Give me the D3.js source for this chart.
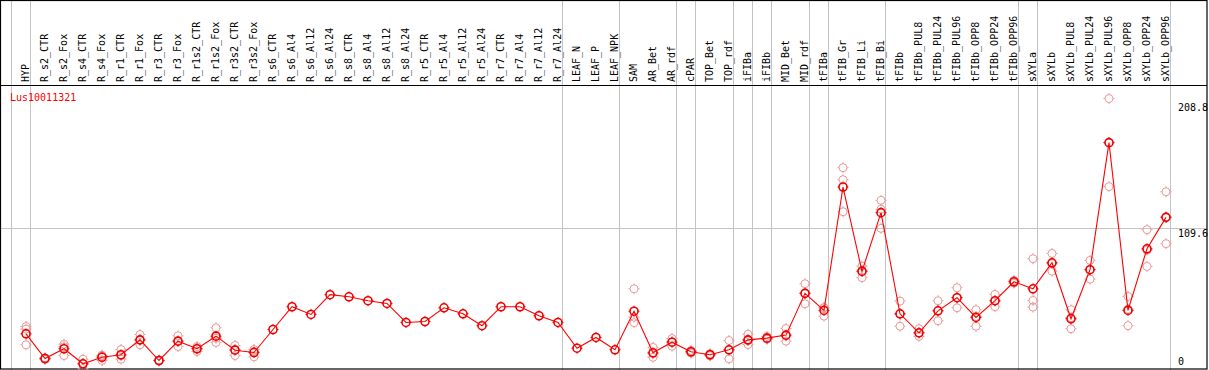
<!DOCTYPE html>
<html>
<head>
<meta charset="utf-8">
<script src="https://cdn.jsdelivr.net/npm/d3@7"></script>
<style>
  html, body { margin: 0; padding: 0; background: #fff; }
  svg { display: block; }
  text { font-family: "DejaVu Sans Mono", "Liberation Mono", monospace; font-size: 10px; }
</style>
</head>
<body>
<svg id="chart" width="1209" height="370"></svg>
<script>
const geneName = "Lus10011321";

const categories = ["HYP","R_s2_CTR","R_s2_Fox","R_s4_CTR","R_s4_Fox","R_r1_CTR","R_r1_Fox","R_r3_CTR","R_r3_Fox",
  "R_r1s2_CTR","R_r1s2_Fox","R_r3s2_CTR","R_r3s2_Fox","R_s6_CTR","R_s6_Al4","R_s6_Al12","R_s6_Al24",
  "R_s8_CTR","R_s8_Al4","R_s8_Al12","R_s8_Al24","R_r5_CTR","R_r5_Al4","R_r5_Al12","R_r5_Al24",
  "R_r7_CTR","R_r7_Al4","R_r7_Al12","R_r7_Al24","LEAF_N","LEAF_P","LEAF_NPK","SAM","AR_Bet","AR_rdf",
  "cPAR","TOP_Bet","TOP_rdf","iFIBa","iFIBb","MID_Bet","MID_rdf","tFIBa","tFIB_Gr","tFIB_Li","tFIB_Bi",
  "tFIBb","tFIBb_PUL8","tFIBb_PUL24","tFIBb_PUL96","tFIBb_OPP8","tFIBb_OPP24","tFIBb_OPP96",
  "sXYLa","sXYLb","sXYLb_PUL8","sXYLb_PUL24","sXYLb_PUL96","sXYLb_OPP8","sXYLb_OPP24","sXYLb_OPP96"];

const means = [28.8, 9.9, 17.4, 5.9, 10.9, 12.8, 24.2, 8.4, 23.2,
  17.4, 27.0, 16.3, 14.5, 32.1, 49.5, 43.6, 58.7,
  57.1, 54.1, 52.0, 37.5, 38.2, 48.7, 44.1, 35.0,
  49.5, 49.5, 42.6, 37.5, 17.8, 26.0, 16.6, 46.1, 14.3, 22.4,
  15.1, 12.8, 16.6, 24.2, 25.5, 27.8, 59.7, 46.7, 141.0, 76.5, 121.4,
  44.1, 29.6, 46.4, 56.4, 41.3, 54.1, 68.6,
  63.2, 83.1, 40.3, 77.8, 174.9, 46.7, 93.8, 117.8];

const replicates = [
  [34.4, 32.4, 20.4], [9.2, 10.0, 10.5], [20.9, 12.2, 19.0], [9.4, 2.3, 6.0], [12.5, 8.4, 11.9],
  [16.8, 9.4, 12.1], [28.3, 20.4, 24.0], [8.0, 8.4, 8.8], [27.3, 19.1, 23.1],
  [17.6, 15.3, 19.1], [33.4, 22.2, 25.4], [19.9, 12.2, 16.8], [16.8, 11.2, 15.5],
  [], [], [], [], [], [], [], [], [], [], [], [], [], [], [], [],
  [], [], [],
  [63.2, 41.5, 37.3], [18.4, 10.9, 13.6], [25.2, 19.3, 22.6],
  [16.1, 14.1, 15.1], [13.5, 12.0, 12.8], [23.7, 9.7, 16.4], [28.5, 20.6, 23.6], [26.8, 24.7, 24.9],
  [32.9, 23.2, 27.2], [67.1, 51.8, 60.1], [48.7, 42.3, 48.9],
  [155.8, 146.6, 122.1], [80.5, 71.7, 77.3], [130.8, 109.4, 124.0],
  [53.8, 34.6, 43.9], [32.7, 26.8, 29.4], [54.1, 38.8, 46.4], [64.0, 48.7, 56.4],
  [47.2, 34.6, 42.1], [58.9, 49.5, 53.8], [67.5, 68.6, 69.7],
  [86.2, 54.3, 49.2], [90.2, 76.7, 82.4], [47.2, 32.7, 41.1], [84.9, 70.6, 77.9],
  [208.6, 141.3, 174.9], [57.4, 35.0, 47.6], [108.4, 80.3, 92.8], [137.4, 97.7, 118.2]
];

// last category of each group (a divider is drawn after it); "" = before the first
const groupEnds = ["", "HYP", "R_r7_Al24", "LEAF_NPK", "AR_rdf", "cPAR", "TOP_rdf", "iFIBa", "iFIBb",
  "MID_rdf", "tFIBa", "tFIB_Bi", "tFIBb_OPP96", "sXYLa", "sXYLb_OPP96"];

const yTicks = [208.8, 109.6, 0];
const yGrid = [109.6];

const W = 1209, H = 370;
const svg = d3.select("#chart");

const x = d3.scalePoint().domain(categories).range([26, 1166]);
const step = x.step();
const y = d3.scaleLinear().domain([0, 208.8]).range([371.5, 98.3]);

const divX = c => c === "" ? x(categories[0]) - step + 4 : x(c) + 4;

// grid lines
svg.append("g").selectAll("line").data(yGrid).join("line")
  .attr("x1", 1).attr("x2", 1207)
  .attr("y1", d => Math.round(y(d)) + 0.5).attr("y2", d => Math.round(y(d)) + 0.5)
  .attr("stroke", "#c4c4c4").attr("stroke-width", 1);

svg.append("g").selectAll("line").data(groupEnds).join("line")
  .attr("x1", d => Math.round(divX(d)) + 0.5).attr("x2", d => Math.round(divX(d)) + 0.5)
  .attr("y1", 0).attr("y2", H)
  .attr("stroke", "#c4c4c4").attr("stroke-width", 1);

// frame
svg.append("rect").attr("x", 0.5).attr("y", 0.5).attr("width", 1206.5).attr("height", 368.5)
  .attr("fill", "none").attr("stroke", "#000").attr("stroke-width", 1.2);
svg.append("line").attr("x1", 0).attr("x2", 1207).attr("y1", 85.5).attr("y2", 85.5)
  .attr("stroke", "#000").attr("stroke-width", 1.2);

// column labels
svg.append("g").selectAll("text").data(categories).join("text")
  .attr("transform", d => `translate(${x(d) + 3},82) rotate(-90)`)
  .attr("text-anchor", "start")
  .attr("fill", "#000")
  .text(d => d);

// gene name
svg.append("text").attr("x", 10).attr("y", 101).attr("fill", "#ff0000").text(geneName);

// y tick labels
svg.append("g").selectAll("text").data(yTicks).join("text")
  .attr("x", 1178)
  .attr("y", d => Math.max(Math.min(y(d) + 9, 365), 110.5))
  .attr("fill", "#000")
  .text(d => d === 0 ? "0" : d3.format(".1f")(d));

// marker path: circle with small spurs
function marker(r) {
  const s = 1.5;
  return d3.path();
}
function drawMarker(g, cx, cy, color, sw) {
  const r = 4;
  g.append("circle").attr("cx", cx).attr("cy", cy).attr("r", r)
    .attr("fill", "none").attr("stroke", color).attr("stroke-width", sw);
  const p = d3.path();
  p.moveTo(cx, cy - r - 1.5); p.lineTo(cx, cy - r);
  p.moveTo(cx, cy + r); p.lineTo(cx, cy + r + 1.5);
  p.moveTo(cx - r - 1.5, cy); p.lineTo(cx - r, cy);
  p.moveTo(cx + r, cy); p.lineTo(cx + r + 1.5, cy);
  g.append("path").attr("d", p.toString()).attr("stroke", color).attr("stroke-width", 1).attr("fill", "none");
}

// replicates
const repG = svg.append("g");
categories.forEach((c, i) => {
  replicates[i].forEach(v => drawMarker(repG, x(c), y(v), "#e99a9a", 1));
});

// mean line
const line = d3.line().x((d, i) => x(categories[i])).y(d => y(d));
svg.append("path").datum(means).attr("d", line)
  .attr("fill", "none").attr("stroke", "#ff0000").attr("stroke-width", 1.1);

// means
const meanG = svg.append("g");
categories.forEach((c, i) => drawMarker(meanG, x(c), y(means[i]), "#ee0000", 1.6));
</script>
</body>
</html>
